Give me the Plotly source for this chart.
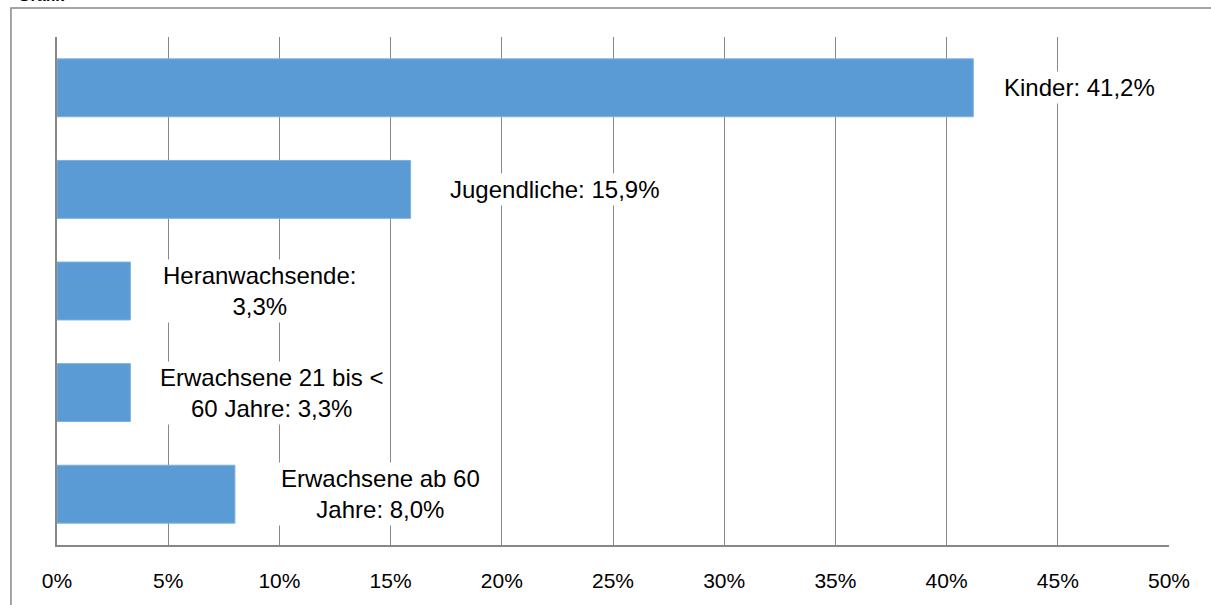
import plotly.graph_objects as go

# Altersgruppen und Anteile (in Prozent)
gruppen = ["Kinder", "Jugendliche", "Heranwachsende", "Erwachsene 21 bis < 60 Jahre", "Erwachsene ab 60 Jahre"]
anteile = [41.2, 15.9, 3.3, 3.3, 8.0]
beschriftung = ["Kinder", "Jugendliche", "Heranwachsende:<br>", "Erwachsene 21 bis <<br>60 Jahre", "Erwachsene ab 60<br>Jahre"]
tick_werte = [0, 5, 10, 15, 20, 25, 30, 35, 40, 45, 50]
tick_text = [f"{t}%" for t in tick_werte]

BAR = "#5B9BD5"
GRID = "#888888"
FONT = "Liberation Sans, Arial, sans-serif"

fig = go.Figure(go.Bar(
    x=anteile, y=gruppen, orientation="h",
    marker=dict(color=BAR, line=dict(color="#7FB0DE", width=1)),
    width=0.57, hoverinfo="skip",
))

def fmt(v):
    return f"{v:.1f}".replace(".", ",") + "%"

# Label-Abstände rechts vom Balkenende (px)
versatz = [28, 36, 30, 27, 43]
anmerkungen = []
for g, v, b, dx in zip(gruppen, anteile, beschriftung, versatz):
    if "<br>" in b:
        kopf, rest = b.split("<br>")
        text = f"{kopf}<br>{(rest + ': ') if rest else ''}{fmt(v)}"
    else:
        text = f"{b}: {fmt(v)}"
    anmerkungen.append(dict(
        x=v, y=g, xref="x", yref="y", text=text, showarrow=False,
        xanchor="left", xshift=dx, align="center",
        font=dict(family=FONT, size=24, color="#000000"),
        bgcolor="#ffffff", borderpad=2,
    ))

# abgeschnittener Titel am oberen Rand
anmerkungen.append(dict(
    x=-0.037, y=1.062, xref="paper", yref="paper", text="<b>Grafik</b>",
    showarrow=False, xanchor="left", yanchor="bottom",
    font=dict(family=FONT, size=16, color="#000000"),
))

fig.update_layout(
    width=1211, height=605,
    margin=dict(l=57, r=42, t=37, b=60),
    paper_bgcolor="#ffffff", plot_bgcolor="#ffffff",
    showlegend=False, bargap=0.43,
    annotations=anmerkungen,
    font=dict(family=FONT, size=20, color="#000000"),
    xaxis=dict(
        range=[0, 50], tickvals=tick_werte, ticktext=tick_text,
        showgrid=True, gridcolor=GRID, gridwidth=1.3,
        showline=True, linecolor=GRID, linewidth=1.5,
        zeroline=False, ticks="", ticklen=0, ticklabelstandoff=16,
        tickfont=dict(family=FONT, size=21, color="#000000"),
        fixedrange=True,
    ),
    yaxis=dict(
        categoryorder="array", categoryarray=gruppen, autorange="reversed",
        showticklabels=False, showgrid=False,
        showline=True, linecolor=GRID, linewidth=1.5,
        zeroline=False, ticks="", fixedrange=True,
    ),
    shapes=[dict(
        type="rect", xref="paper", yref="paper",
        x0=-0.0414, x1=1.2, y0=-0.3, y1=1.057,
        line=dict(color=GRID, width=1.5), fillcolor="rgba(0,0,0,0)",
        layer="below",
    )],
)

fig.write_html("out.html")
